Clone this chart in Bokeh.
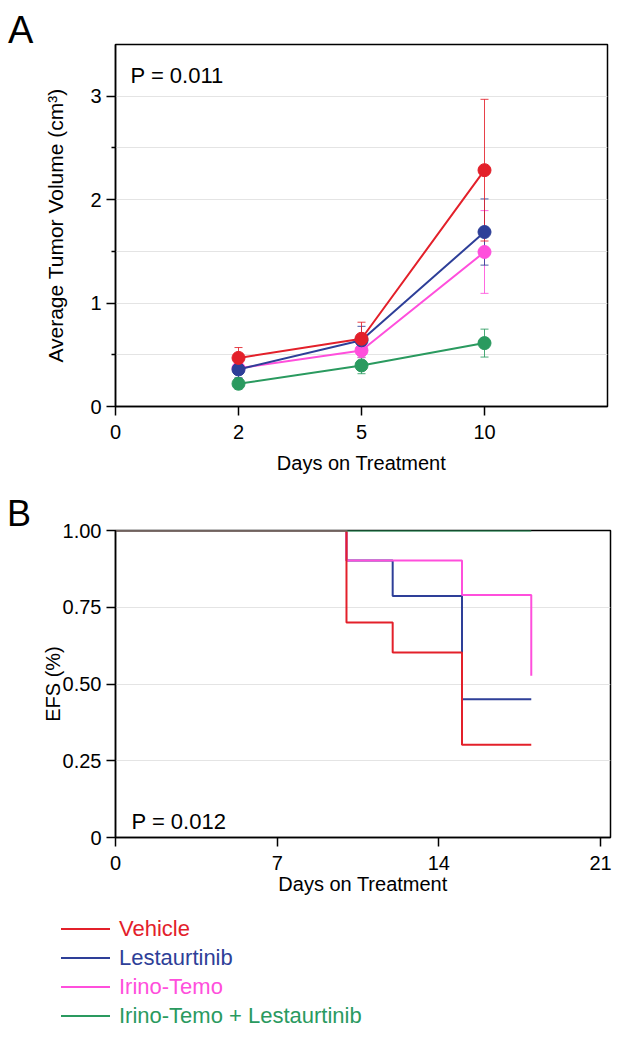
from bokeh.plotting import figure
from bokeh.models import (Range1d, FixedTicker, Label, Whisker, TeeHead,
                          ColumnDataSource, NumeralTickFormatter, Div)
from bokeh.layouts import column, row
from bokeh.embed import file_html
from bokeh.resources import INLINE

FONT = "Liberation Sans"

# ---------------- data ----------------
groups = ["Vehicle", "Lestaurtinib", "Irino-Temo", "Irino-Temo + Lestaurtinib"]
colors = ["#e3202a", "#2e3f98", "#ff4fdc", "#2a9a5f"]

# Panel A: tumor volume
day_ticks = [0, 2, 5, 10]
days = [2, 5, 10]
vehicle_mean = [0.47, 0.655, 2.285]
vehicle_err = [0.10, 0.16, 0.685]
lest_mean = [0.358, 0.64, 1.687]
lest_err = [0.08, 0.135, 0.32]
irino_mean = [0.37, 0.542, 1.494]
irino_err = [0.06, 0.07, 0.40]
combo_mean = [0.22, 0.397, 0.613]
combo_err = [0.05, 0.08, 0.135]
p_value_a = "P = 0.011"

# Panel B: EFS
vehicle_t = [0, 10, 12, 15, 18]
vehicle_s = [1.0, 0.70, 0.603, 0.302, 0.302]
lest_t = [0, 10, 12, 15, 18]
lest_s = [1.0, 0.902, 0.787, 0.45, 0.45]
irino_t = [0, 10, 15, 18]
irino_s = [1.0, 0.902, 0.79, 0.527]
combo_t = [0, 18]
combo_s = [1.0, 1.0]
efs_ticks = [0, 7, 14, 21]
efs_yticks = [0, 0.25, 0.5, 0.75, 1.0]
p_value_b = "P = 0.012"

# ---------------- helpers ----------------
def style_axes(p):
    for ax in (p.xaxis[0], p.yaxis[0]):
        ax.axis_line_width = 1.5
        ax.axis_line_color = "black"
        ax.major_tick_line_width = 1.5
        ax.major_tick_line_color = "black"
        ax.minor_tick_line_width = 1.5
        ax.minor_tick_line_color = "black"
        ax.major_tick_in = 0
        ax.major_tick_out = 9
        ax.minor_tick_in = 0
        ax.minor_tick_out = 4
        ax.major_label_text_font = FONT
        ax.major_label_text_font_size = "20px"
        ax.major_label_text_color = "black"
        ax.axis_label_text_font = FONT
        ax.axis_label_text_font_size = "20px"
        ax.axis_label_text_font_style = "normal"
        ax.axis_label_text_color = "black"
    p.outline_line_color = "black"
    p.outline_line_width = 1.5
    p.outline_line_alpha = 1.0


def letter_div(letter, size, pad_top, pad_left, width, height):
    html = (f'<div style="padding-top:{pad_top};padding-left:{pad_left};'
            f'font-family:{FONT};font-size:{size};line-height:{size};color:black;">'
            f'{letter}</div>')
    return Div(text=html, width=width, height=height, margin=0)


# ---------------- Panel A ----------------
pos = {d: i for i, d in enumerate(day_ticks)}
xs = [pos[d] for d in days]

pa = figure(frame_width=492, frame_height=362, x_range=Range1d(0, 4),
            y_range=Range1d(0, 3.5), output_backend="svg", toolbar_location=None,
            min_border_left=75, min_border_right=35, min_border_top=44,
            min_border_bottom=82, background_fill_color="white")
style_axes(pa)
pa.xaxis.ticker = FixedTicker(ticks=[pos[d] for d in day_ticks])
pa.xaxis.major_label_overrides = {pos[d]: str(d) for d in day_ticks}
pa.yaxis.ticker = FixedTicker(ticks=[0, 1, 2, 3], minor_ticks=[0.5, 1.5, 2.5])
pa.xaxis.axis_label = "Days on Treatment"
pa.yaxis.axis_label = "Average Tumor Volume (cm\u00b3)"
pa.yaxis.axis_label_text_font_size = "21px"
pa.xaxis.major_label_standoff = 9
pa.xaxis.axis_label_standoff = 10
pa.yaxis.major_label_standoff = 5
pa.yaxis.axis_label_standoff = 20
pa.xgrid.visible = False
pa.ygrid.ticker = FixedTicker(ticks=[0.5, 1, 1.5, 2, 2.5, 3])
pa.ygrid.grid_line_color = "#e4e4e4"
pa.ygrid.grid_line_width = 1

series_a = [
    (vehicle_mean, vehicle_err, colors[0]),
    (lest_mean, lest_err, colors[1]),
    (irino_mean, irino_err, colors[2]),
    (combo_mean, combo_err, colors[3]),
]
for mean, err, c in reversed(series_a):
    src = ColumnDataSource(dict(x=xs, y=mean,
                                lo=[m - e for m, e in zip(mean, err)],
                                hi=[m + e for m, e in zip(mean, err)]))
    w = Whisker(source=src, base="x", lower="lo", upper="hi",
                line_color=c, line_width=1, line_alpha=0.85,
                lower_head=TeeHead(size=8, line_color=c, line_width=1, line_alpha=0.85),
                upper_head=TeeHead(size=8, line_color=c, line_width=1, line_alpha=0.85))
    pa.add_layout(w)
for mean, err, c in reversed(series_a):
    src = ColumnDataSource(dict(x=xs, y=mean))
    pa.line("x", "y", source=src, line_color=c, line_width=2)
    pa.scatter("x", "y", source=src, size=13, fill_color=c, line_color=c)

pa.add_layout(Label(x=15, y=331, x_units="screen", y_units="screen", text=p_value_a,
                    text_font=FONT, text_font_size="22px", text_color="black",
                    text_baseline="alphabetic"))

# ---------------- Panel B ----------------
pb = figure(frame_width=495, frame_height=307, x_range=Range1d(0, 21.43),
            y_range=Range1d(0, 1.0), output_backend="svg", toolbar_location=None,
            min_border_left=83, min_border_right=32, min_border_top=42,
            min_border_bottom=63, background_fill_color="white")
style_axes(pb)
pb.xaxis.ticker = FixedTicker(ticks=efs_ticks)
pb.yaxis.ticker = FixedTicker(ticks=efs_yticks)
pb.yaxis.formatter = NumeralTickFormatter(format="0.00")
pb.yaxis.major_label_overrides = {0: "0"}
pb.xaxis.axis_label = "Days on Treatment"
pb.yaxis.axis_label = "EFS (%)"
pb.xaxis.major_label_standoff = 9
pb.xaxis.axis_label_standoff = 0
pb.yaxis.major_label_standoff = 5
pb.yaxis.axis_label_standoff = -4
pb.xgrid.visible = False
pb.ygrid.ticker = FixedTicker(ticks=[0.25, 0.5, 0.75])
pb.ygrid.grid_line_color = "#e4e4e4"
pb.ygrid.grid_line_width = 1

km = [
    (lest_t, lest_s, colors[1]),
    (irino_t, irino_s, colors[2]),
    (vehicle_t, vehicle_s, colors[0]),
    (combo_t, combo_s, colors[3]),
]
for t, s, c in km:
    pb.step(t, s, mode="after", line_color=c, line_width=2)

pb.add_layout(Label(x=16, y=16, x_units="screen", y_units="screen", text=p_value_b,
                    text_font=FONT, text_font_size="22px", text_color="black",
                    text_baseline="alphabetic"))

# ---------------- letters & legend ----------------
div_a = letter_div("A", "38px", "11px", "8px", 40, 488)
div_b = letter_div("B", "36px", "8px", "7px", 32, 412)

rows_html = "".join(
    f'<div style="display:flex;align-items:center;height:29px;">'
    f'<span style="display:inline-block;width:49px;height:0;border-top:2px solid {c};'
    f'margin-left:61px;margin-right:9px;"></span>'
    f'<span style="color:{c};font-size:22px;line-height:29px;white-space:nowrap;">{g}</span>'
    f'</div>'
    for g, c in zip(groups, colors)
)
legend_div = Div(text=f'<div style="padding-top:14px;font-family:{FONT};">{rows_html}</div>',
                 width=642, height=135, margin=0)

layout = column(row(div_a, pa, spacing=0), row(div_b, pb, spacing=0), legend_div,
                spacing=0)
open("out.html", "w").write(file_html(layout, INLINE))
